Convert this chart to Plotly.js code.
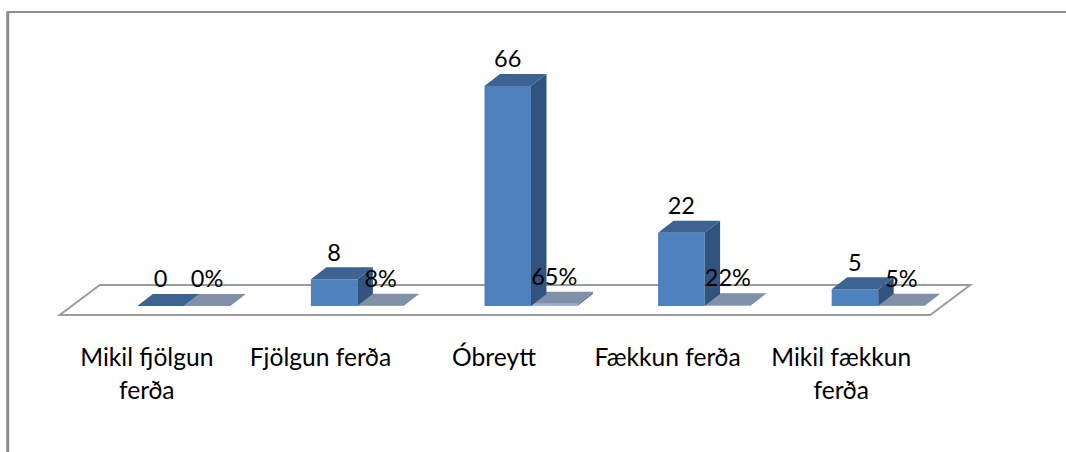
<!DOCTYPE html>
<html>
<head>
<meta charset="utf-8">
<script src="https://cdn.plot.ly/plotly-3.0.1.min.js"></script>
<style>html,body{margin:0;padding:0;background:#fff;overflow:hidden}</style>
</head>
<body>
<div id="chart" style="width:1066px;height:452px"></div>
<script>
var categories = ["Mikil fjölgun<br>ferða", "Fjölgun ferða", "Óbreytt", "Fækkun ferða", "Mikil fækkun<br>ferða"];
var counts = [0, 8, 66, 22, 5];
var shares = [0, 0.08, 0.65, 0.22, 0.05];
var shareLabels = ["0%", "8%", "65%", "22%", "5%"];

var W = 1066, H = 452;
var M = {l: 97.25, r: 101.25, t: 46, b: 136};
var xRange = [-0.5, 4.5], yRange = [-3, 78];
var barW = 0.268, depthX = 0.0893, depthY = 3.6, labelGap = 3.8, tickShift = 0.213;
var idx = categories.map(function (_, i) { return i; });

function px(v) { return (v - M.l) / (W - M.l - M.r); }
function py(v) { return (H - M.b - v) / (H - M.t - M.b); }

function faces(vals, off, kind) {
  var xs = [], ys = [];
  vals.forEach(function (v, i) {
    var a = i + off, b = a + barW, p;
    if (kind === 'top') p = [[a, v], [b, v], [b + depthX, v + depthY], [a + depthX, v + depthY], [a, v]];
    else p = [[b, 0], [b + depthX, depthY], [b + depthX, v + depthY], [b, v], [b, 0]];
    p.forEach(function (q) { xs.push(q[0]); ys.push(q[1]); });
    xs.push(null); ys.push(null);
  });
  return {x: xs, y: ys, type: 'scatter', mode: 'lines', fill: 'toself', line: {width: 0},
          hoverinfo: 'skip', showlegend: false, cliponaxis: false};
}
function paint(t, c) { t.fillcolor = c; t.line.color = c; return t; }

var traces = [
  {type: 'bar', x: idx, y: counts, marker: {color: '#4F81BD', line: {width: 0}}, showlegend: false, hoverinfo: 'x+y'},
  {type: 'bar', x: idx, y: shares, marker: {color: '#9DB2D2', line: {width: 0}}, showlegend: false, hoverinfo: 'x+y'},
  paint(faces(shares, 0, 'top'), '#8190A9'),
  paint(faces(shares, 0, 'side'), '#6F7F99'),
  paint(faces(counts, -barW, 'side'), '#30547E'),
  paint(faces(counts, -barW, 'top'), '#3C6391'),
  {type: 'scatter', mode: 'text', x: idx.map(function (i) { return i - barW / 2; }),
   y: counts.map(function (v) { return v + depthY + labelGap; }),
   text: counts.map(String), textposition: 'middle center', cliponaxis: false,
   textfont: {family: 'Lato, sans-serif', size: 23.5, color: '#000'}, hoverinfo: 'skip', showlegend: false},
  {type: 'scatter', mode: 'text', x: idx.map(function (i) { return i + barW / 2; }),
   y: shares.map(function (v) { return v + depthY + labelGap; }),
   text: shareLabels, textposition: 'middle center', cliponaxis: false,
   textfont: {family: 'Lato, sans-serif', size: 23.5, color: '#000'}, hoverinfo: 'skip', showlegend: false}
];

var frame = {color: '#8E8E8E', width: 2};
var layout = {
  width: W, height: H, margin: M, autosize: false, showlegend: false,
  paper_bgcolor: '#fff', plot_bgcolor: 'rgba(0,0,0,0)',
  barmode: 'group', bargap: 1 - 2 * barW, bargroupgap: 0,
  xaxis: {
    range: xRange, showgrid: false, zeroline: false, showline: false, ticks: '',
    tickmode: 'array', tickvals: idx.map(function (i) { return i - tickShift; }),
    ticktext: categories.map(function (c) {
      return c.split('<br>').map(function (s) { return '<span style="font-size:24.6px">' + s + '</span>'; }).join('<br>');
    }),
    tickangle: 0, tickfont: {family: 'Lato, sans-serif', size: 25.4, color: '#000'}, ticklabelstandoff: 24
  },
  yaxis: {range: yRange, visible: false},
  shapes: [
    {type: 'line', xref: 'paper', yref: 'paper', x0: px(7), x1: px(1066), y0: py(12), y1: py(12), line: frame},
    {type: 'line', xref: 'paper', yref: 'paper', x0: px(8), x1: px(8), y0: py(12), y1: py(452), line: {color: '#8E8E8E', width: 3}},
    {type: 'path', xref: 'paper', yref: 'paper', layer: 'below', fillcolor: '#fff',
     line: {color: '#9C9C9C', width: 2},
     path: 'M' + px(60) + ',' + py(315) + ' L' + px(100) + ',' + py(285) + ' L' + px(970) + ',' + py(285) + ' L' + px(930) + ',' + py(315) + ' Z'}
  ]
};
Plotly.newPlot('chart', traces, layout, {displayModeBar: false, staticPlot: true});
</script>
</body>
</html>
